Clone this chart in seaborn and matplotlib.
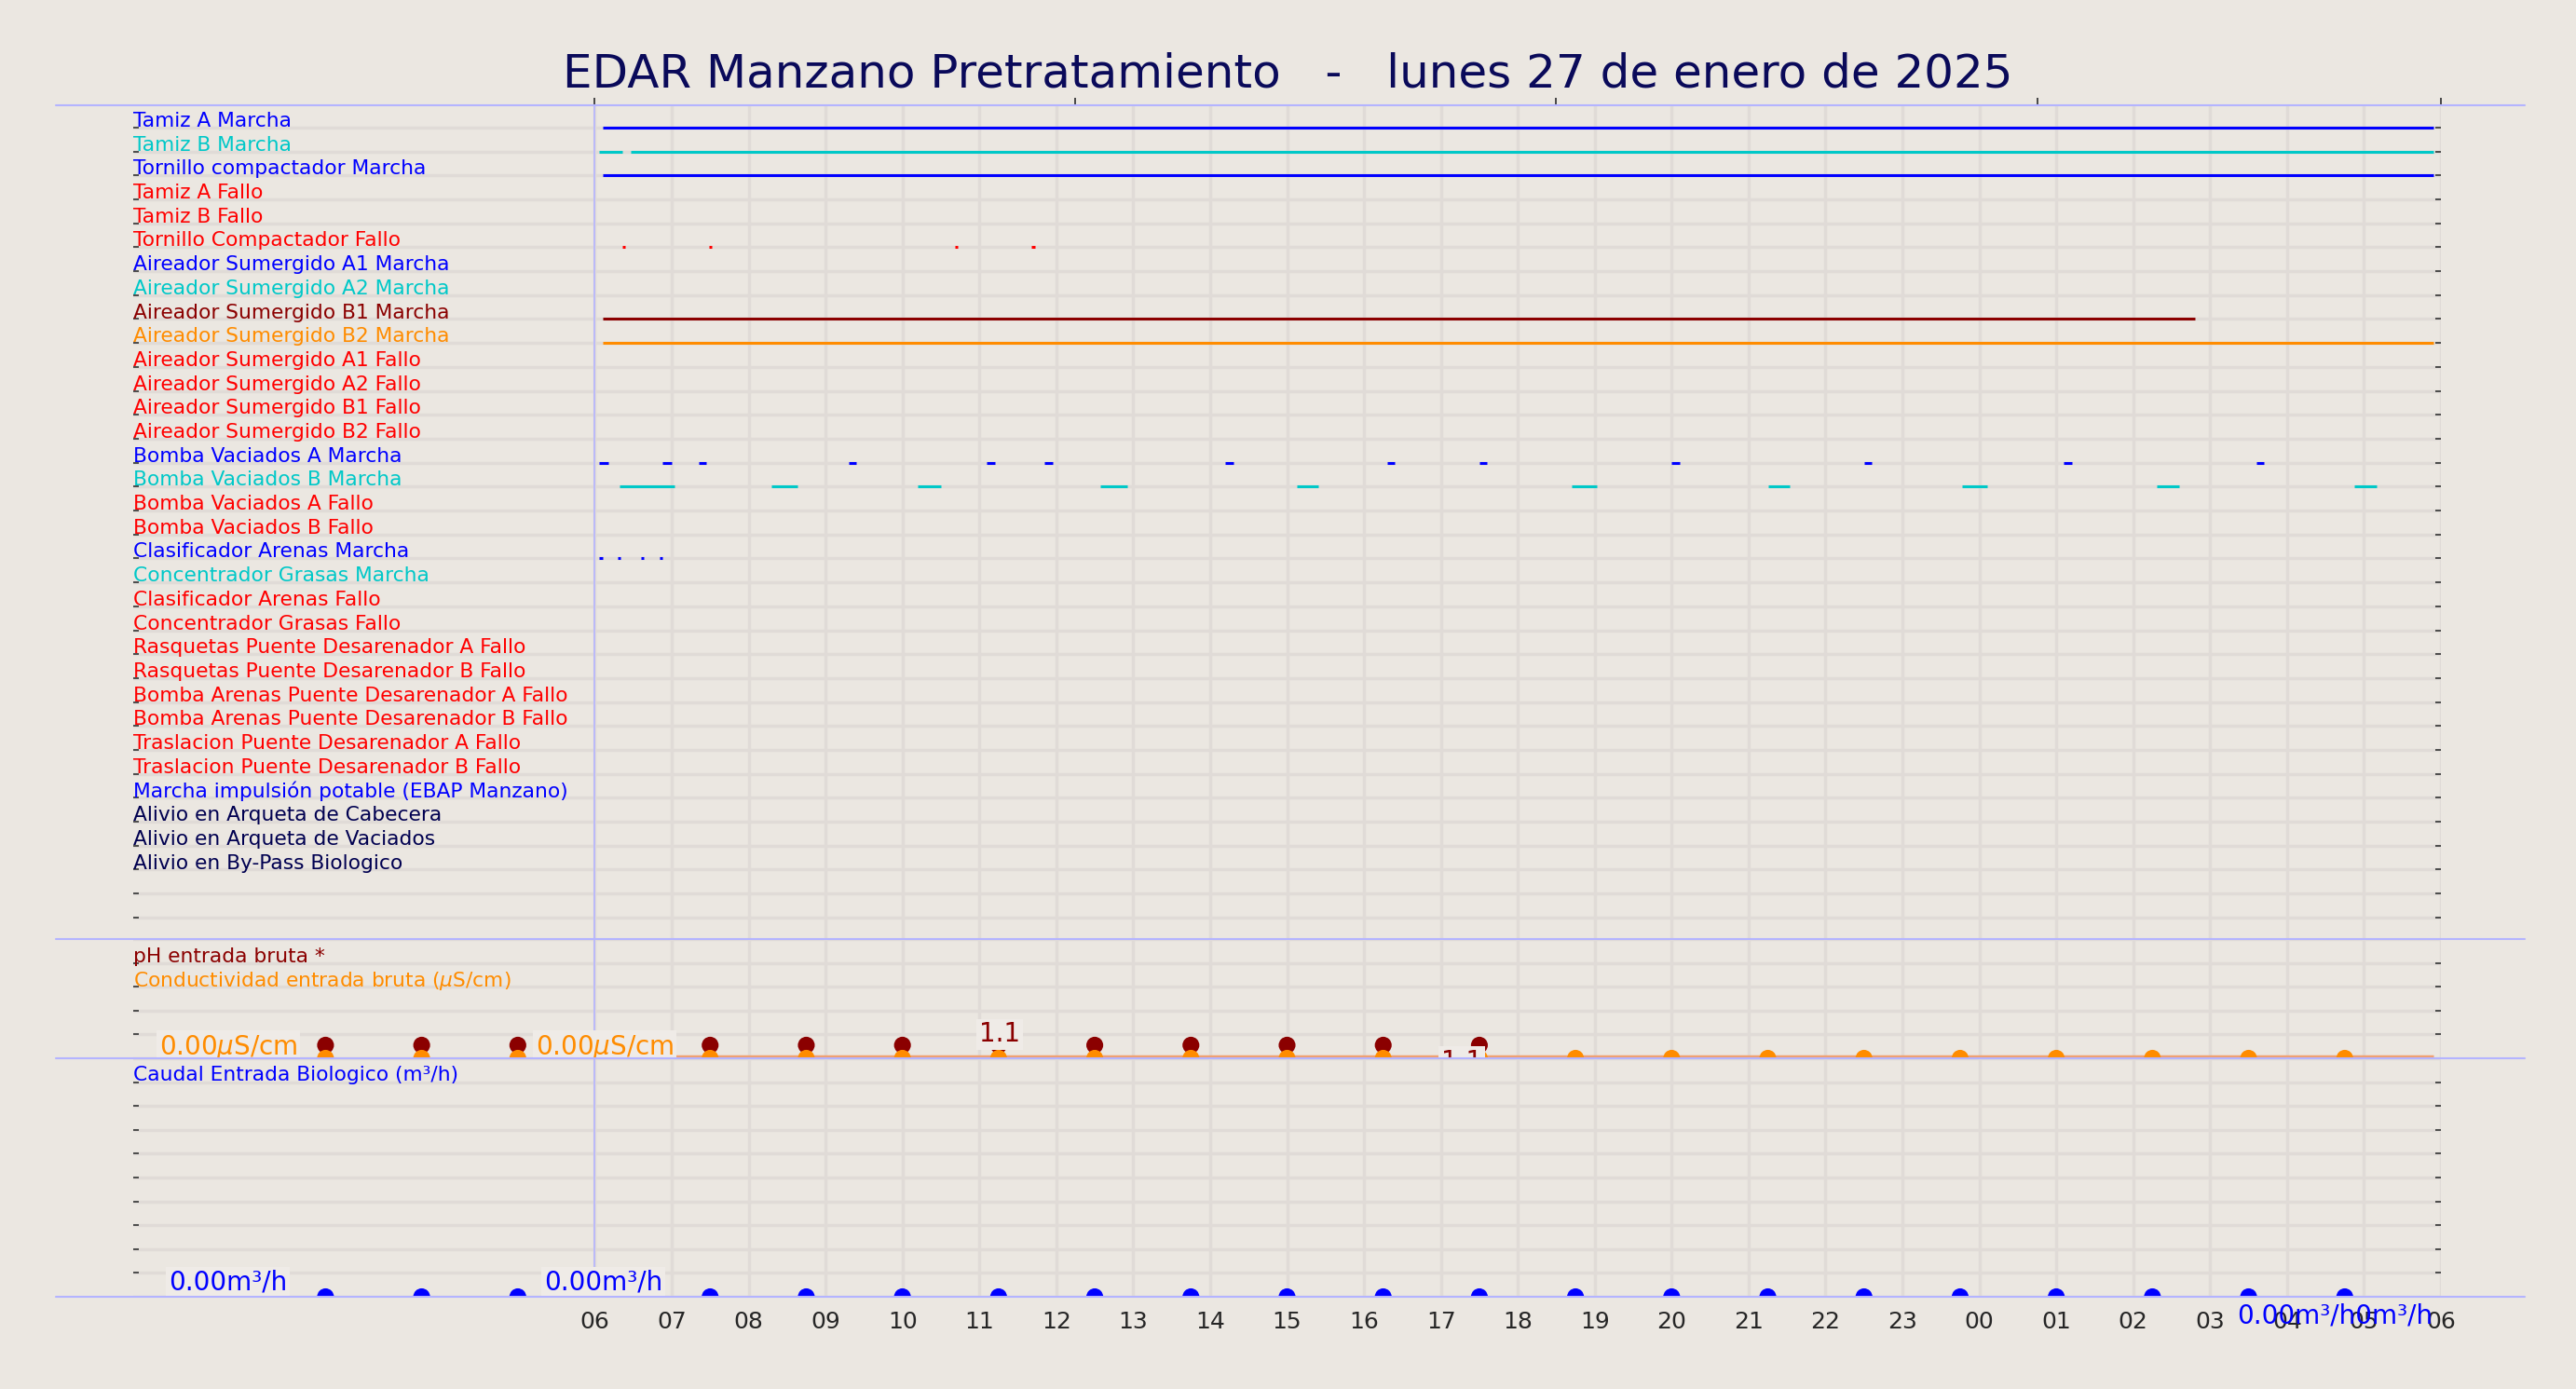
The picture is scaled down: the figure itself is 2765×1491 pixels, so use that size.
import matplotlib
matplotlib.use("Agg")
import matplotlib.pyplot as plt
from matplotlib.lines import Line2D
import seaborn as sns
import pandas as pd

FONDO = "#ebe7e1"
REJILLA = "#e0dbd7"
AZUL_CLARO = "#b4b4ff"

# Señales digitales (etiqueta, color, tramos en horas desde las 06:00)
senales = [
    ("Tamiz A Marcha", "blue", [(0.1, 23.9)]),
    ("Tamiz B Marcha", "#00c8c8", [(0.06, 0.36), (0.47, 23.9)]),
    ("Tornillo compactador Marcha", "blue", [(0.1, 23.9)]),
    ("Tamiz A Fallo", "red", []),
    ("Tamiz B Fallo", "red", []),
    ("Tornillo Compactador Fallo", "red", [(0.36, 0.4), (1.48, 1.52), (4.68, 4.72), (5.68, 5.72)]),
    ("Aireador Sumergido A1 Marcha", "blue", []),
    ("Aireador Sumergido A2 Marcha", "#00c8c8", []),
    ("Aireador Sumergido B1 Marcha", "darkred", [(0.1, 20.8)]),
    ("Aireador Sumergido B2 Marcha", "darkorange", [(0.1, 23.9)]),
    ("Aireador Sumergido A1 Fallo", "red", []),
    ("Aireador Sumergido A2 Fallo", "red", []),
    ("Aireador Sumergido B1 Fallo", "red", []),
    ("Aireador Sumergido B2 Fallo", "red", []),
    ("Bomba Vaciados A Marcha", "blue", [(0.06, 0.18), (0.88, 1.0), (1.35, 1.45), (3.3, 3.4), (5.1, 5.2),
                                         (5.85, 5.95), (8.2, 8.3), (10.3, 10.4), (11.5, 11.6), (14.0, 14.1),
                                         (16.5, 16.6), (19.1, 19.2), (21.6, 21.7)]),
    ("Bomba Vaciados B Marcha", "#00c8c8", [(0.32, 1.04), (2.3, 2.64), (4.2, 4.5), (6.57, 6.92), (9.13, 9.4),
                                            (12.7, 13.03), (15.25, 15.54), (17.78, 18.1), (20.3, 20.6),
                                            (22.87, 23.17)]),
    ("Bomba Vaciados A Fallo", "red", []),
    ("Bomba Vaciados B Fallo", "red", []),
    ("Clasificador Arenas Marcha", "blue", [(0.06, 0.1), (0.3, 0.34), (0.6, 0.64), (0.84, 0.88)]),
    ("Concentrador Grasas Marcha", "#00c8c8", []),
    ("Clasificador Arenas Fallo", "red", []),
    ("Concentrador Grasas Fallo", "red", []),
    ("Rasquetas Puente Desarenador A Fallo", "red", []),
    ("Rasquetas Puente Desarenador B Fallo", "red", []),
    ("Bomba Arenas Puente Desarenador A Fallo", "red", []),
    ("Bomba Arenas Puente Desarenador B Fallo", "red", []),
    ("Traslacion Puente Desarenador A Fallo", "red", []),
    ("Traslacion Puente Desarenador B Fallo", "red", []),
    ("Marcha impulsión potable (EBAP Manzano)", "blue", []),
    ("Alivio en Arqueta de Cabecera", "#000050", []),
    ("Alivio en Arqueta de Vaciados", "#000050", []),
    ("Alivio en By-Pass Biologico", "#000050", []),
]

# Muestras analógicas
horas_ph = [-3.5, -2.25, -1.0, 1.5, 2.75, 4.0, 5.25, 6.5, 7.75, 9.0, 10.25, 11.5]
ph = [1.1] * len(horas_ph)
horas_cond = [-3.5, -2.25, -1.0, 0.25, 1.5, 2.75, 4.0, 5.25, 6.5, 7.75, 9.0, 10.25, 11.5, 12.75, 14.0,
              15.25, 16.5, 17.75, 19.0, 20.25, 21.5, 22.75]
conductividad = [0.0] * len(horas_cond)
caudal = [0.0] * len(horas_cond)

horas_ticks = list(range(0, 25))
etiquetas_ticks = [f"{(6 + h) % 24:02d}" for h in horas_ticks]

sns.set_theme(style="white", rc={"figure.facecolor": FONDO, "axes.facecolor": FONDO})
plt.rcParams["font.family"] = ["DejaVu Sans"]

fig = plt.figure(figsize=(27.65, 14.91), dpi=100)
L, R = 143 / 2765, 2620 / 2765
def fy(px):
    return 1 - px / 1491

ax1 = fig.add_axes([L, fy(1008), R - L, fy(113) - fy(1008)])
ax2 = fig.add_axes([L, fy(1136), R - L, fy(1008) - fy(1136)])
ax3 = fig.add_axes([L, fy(1392), R - L, fy(1136) - fy(1392)])

for ax in (ax1, ax2, ax3):
    ax.set_xlim(-6, 24)
    ax.set_xticks(horas_ticks)
    ax.grid(True, color=REJILLA, lw=2.5)
    ax.set_axisbelow(True)
    for s in ax.spines.values():
        s.set_visible(False)
    ax.tick_params(axis="y", left=True, right=True, length=4, width=1.2, color="#333333",
                   labelleft=False, direction="in")
    ax.tick_params(axis="x", bottom=False, labelbottom=False)
    ax.axvline(0, color=AZUL_CLARO, lw=1.2)

# Panel superior
n = len(senales)
ax1.set_ylim(33.9, -0.93)
ax1.set_yticks(range(n + 2))
ax1.tick_params(axis="x", top=True, length=6, color="#333333")
ax1.set_xticks([0, 6.25, 12.5, 18.75, 24], minor=False)
ax1.xaxis.grid(False)
for h in horas_ticks:
    ax1.axvline(h, color=REJILLA, lw=2.5, zorder=0)
for i, (nombre, color, tramos) in enumerate(senales):
    ax1.text(-6, i - 0.27, nombre, color=color, fontsize=15.7, va="center", ha="left")
    for a, b in tramos:
        ax1.hlines(i, a, b, color=color, lw=2.2)

# Panel pH / conductividad
ax2.set_ylim(0, 10)
ax2.set_yticks(range(0, 11, 2))
ax2.text(-6, 8.5, "pH entrada bruta *", color="darkred", fontsize=15.7, va="center")
ax2.text(-6, 6.5, "Conductividad entrada bruta ($\\mu$S/cm)", color="darkorange", fontsize=15.7, va="center")
ax2.hlines(0.15, 0.97, 23.9, color="#f0a070", lw=2.5, zorder=2)
df_ph = pd.DataFrame({"hora": horas_ph, "valor": ph})
df_c = pd.DataFrame({"hora": horas_cond, "valor": conductividad})
sns.scatterplot(data=df_c, x="hora", y="valor", ax=ax2, color="darkorange", s=170, edgecolor="none",
                clip_on=False, zorder=4)
sns.scatterplot(data=df_ph, x="hora", y="valor", ax=ax2, color="darkred", s=170, edgecolor="none",
                clip_on=False, zorder=3)
ax2.set_xlabel(""); ax2.set_ylabel("")
caja = dict(facecolor="#efebe7", edgecolor="none", pad=2)
ax2.text(-5.66, 0.9, "0.00$\\mu$S/cm", color="darkorange", fontsize=20, va="center", bbox=caja, zorder=5)
ax2.text(-0.77, 0.9, "0.00$\\mu$S/cm", color="darkorange", fontsize=20, va="center", bbox=caja, zorder=5)
ax2.text(5.0, 2.0, "1.1", color="darkred", fontsize=20, va="center", bbox=caja, zorder=5)
ax2.text(11.0, -0.3, "1.1", color="darkred", fontsize=20, va="center", bbox=caja, zorder=5)
ax2.text(23.9, -1.9, "0.00$\\mu$S/cm$\\mu$S/cm", color="darkorange", fontsize=20, va="center", ha="right",
         bbox=caja, zorder=5, clip_on=False)

# Panel caudal
ax3.set_ylim(0, 10)
ax3.set_yticks(range(0, 11))
ax3.text(-6, 9.3, "Caudal Entrada Biologico (m³/h)", color="blue", fontsize=15.7, va="center")
df_q = pd.DataFrame({"hora": horas_cond, "valor": caudal})
sns.scatterplot(data=df_q, x="hora", y="valor", ax=ax3, color="blue", s=170, edgecolor="none",
                clip_on=True, zorder=4)
ax3.set_xlabel(""); ax3.set_ylabel("")
ax3.text(-5.54, 0.6, "0.00m³/h", color="blue", fontsize=20, va="center", bbox=caja, zorder=5)
ax3.text(-0.66, 0.6, "0.00m³/h", color="blue", fontsize=20, va="center", bbox=caja, zorder=5)
ax3.tick_params(axis="x", labelbottom=True, labelsize=18, pad=5)
ax3.set_xticklabels(etiquetas_ticks)
ax3.text(23.9, -0.8, "0.00m³/h0m³/h", color="blue", fontsize=20, va="center", ha="right",
         clip_on=False, zorder=5)

# Líneas separadoras
for px in (113, 1008, 1136, 1392):
    fig.add_artist(Line2D([60 / 2765, 2710 / 2765], [fy(px), fy(px)], color=AZUL_CLARO, lw=1.5))

fig.suptitle("EDAR Manzano Pretratamiento   -   lunes 27 de enero de 2025", x=0.5, y=fy(80),
             va="center", fontsize=36, color="#0a0a5a")

fig.savefig("out.png", dpi=100, facecolor=FONDO)
